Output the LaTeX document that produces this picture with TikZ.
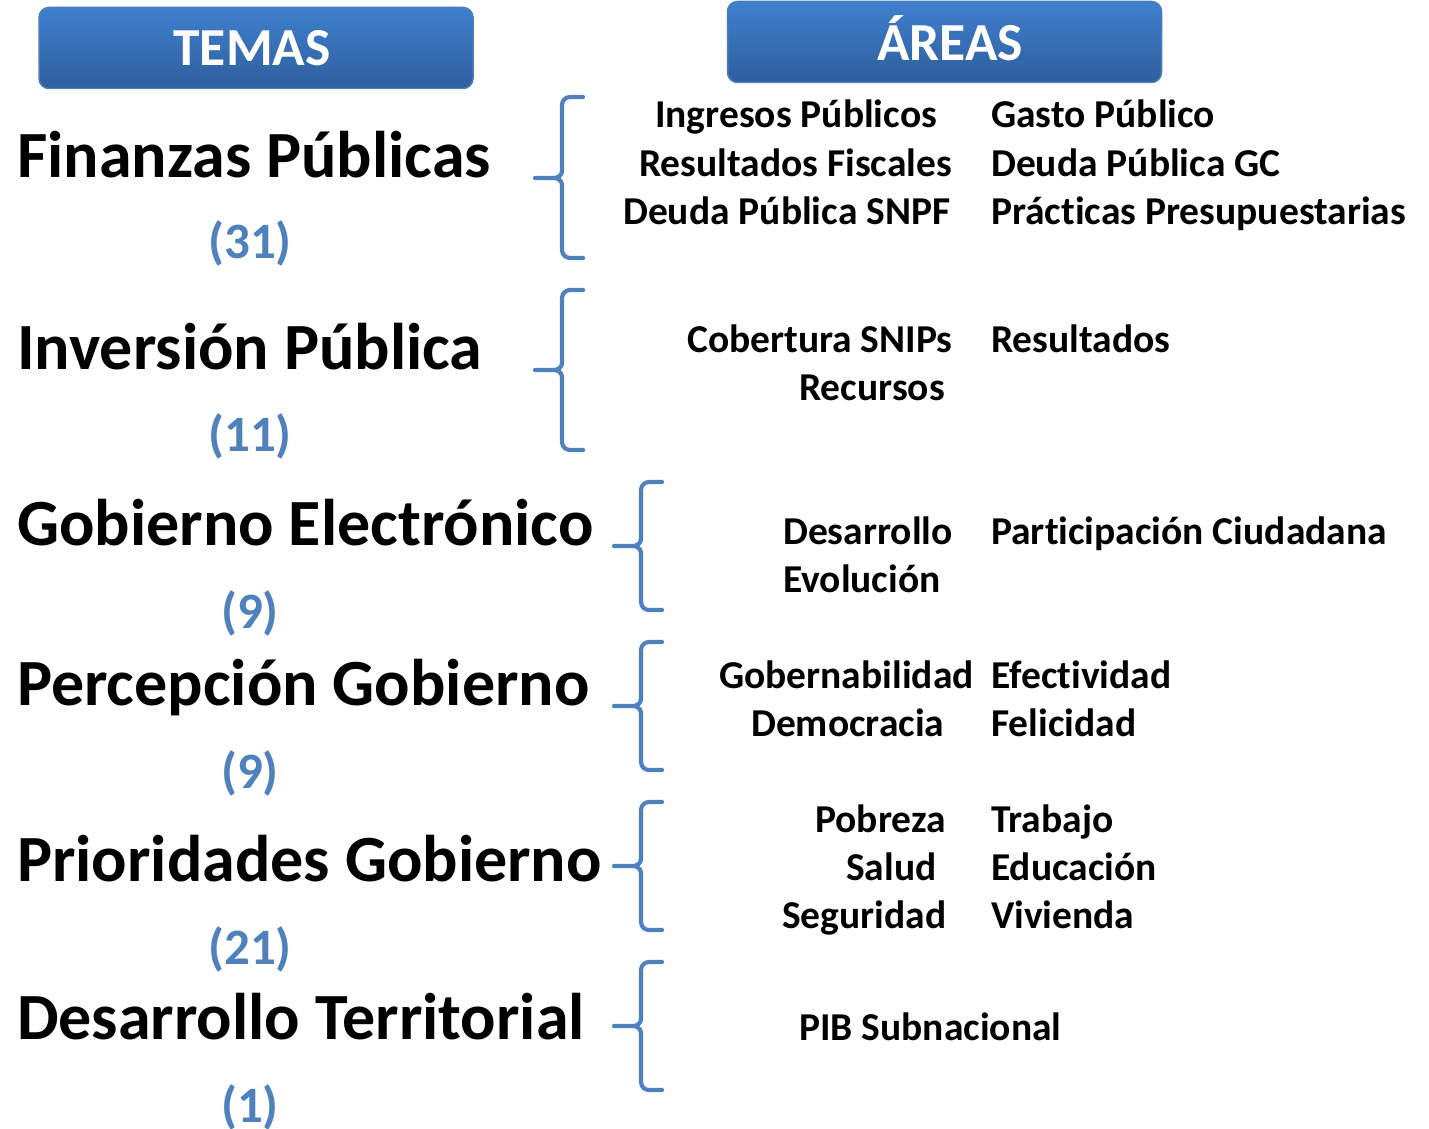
\documentclass[tikz,border=0pt]{standalone}
\usepackage{fontspec}
\setmainfont{Carlito}[Ligatures=NoCommon]
\definecolor{bracec}{HTML}{4F81BD}
\definecolor{numc}{HTML}{4F81BD}
\definecolor{hdtop}{HTML}{3F80CE}
\definecolor{hdbot}{HTML}{2F5E9D}
\definecolor{hdline}{HTML}{4A7EBB}
\newcommand{\mybrace}[4]{% xv, top, mid, bot
  \draw[bracestyle] ({#1+21},#2) -- ({#1+8},#2) to[out=180,in=90] (#1,{#2+8}) -- (#1,{#3-7})
     to[out=-90,in=0] ({#1-8},#3) -- ({#1-27},#3)
     ({#1-8},#3) to[out=0,in=90] (#1,{#3+7}) -- (#1,{#4-8}) to[out=-90,in=180] ({#1+8},#4) -- ({#1+21},#4);}
\begin{document}
\begin{tikzpicture}[x=1pt,y=-1pt,
  bracestyle/.style={draw=bracec,line width=4.2pt,line cap=round,line join=round},
  header/.style={draw=hdline,line width=1.5pt,rounded corners=10pt,top color=hdtop,bottom color=hdbot,minimum width=434pt,minimum height=81pt,inner sep=0pt},
  headtxt/.style={anchor=base,text=white,font=\bfseries\fontsize{53.5}{60}\selectfont,inner sep=0pt},
  theme/.style={anchor=base west,font=\bfseries\fontsize{66}{80}\selectfont,inner sep=0pt},
  count/.style={anchor=base,text=numc,font=\bfseries\fontsize{51}{56}\selectfont,inner sep=0pt},
  arealeft/.style={anchor=base west,font=\bfseries\fontsize{39.5}{44}\selectfont,inner sep=0pt},
  arearight/.style={anchor=base west,font=\bfseries\fontsize{39.5}{44}\selectfont,inner sep=0pt}]
\useasboundingbox (0,0) rectangle (1429,1129);
% headers
\node[header] (hT) at (256,48) {};
\node[headtxt] (tT) at (252,66) {TEMAS};
\node[header] (hA) at (944.5,42) {};
\node[headtxt] (tA) at (950,61) {ÁREAS};
% themes
\node[theme] (t1) at (17,177) {Finanzas Públicas};
\node[count] (c1) at (250,258) {(31)};
\node[theme] (t2) at (17,369) {Inversión Pública};
\node[count] (c2) at (250,451) {(11)};
\node[theme] (t3) at (17,545) {Gobierno Electrónico};
\node[count] (c3) at (250,628) {(9)};
\node[theme] (t4) at (17,705) {Percepción Gobierno};
\node[count] (c4) at (250,788) {(9)};
\node[theme] (t5) at (17,881) {Prioridades Gobierno};
\node[count] (c5) at (250,964) {(21)};
\node[theme] (t6) at (17,1039) {Desarrollo Territorial};
\node[count] (c6) at (250,1122) {(1)};
% braces
\mybrace{562}{97}{178}{258}
\mybrace{562}{290}{370}{450}
\mybrace{641}{482}{546}{610}
\mybrace{641}{642}{706}{770}
\mybrace{641}{802}{866}{930}
\mybrace{641}{962}{1026}{1090}
% areas group 1
\node[arealeft] (a11) at (655,128) {Ingresos Públicos};
\node[arealeft] (a12) at (639,176) {Resultados Fiscales};
\node[arealeft] (a13) at (623,224) {Deuda Pública SNPF};
\node[arearight] (b11) at (991,128) {Gasto Público};
\node[arearight] (b12) at (991,176) {Deuda Pública GC};
\node[arearight] (b13) at (991,224) {Prácticas Presupuestarias};
% group 2
\node[arealeft] (a21) at (687,352) {Cobertura SNIPs};
\node[arealeft] (a22) at (799,400) {Recursos};
\node[arearight] (b21) at (991,352) {Resultados};
% group 3
\node[arealeft] (a31) at (783,544) {Desarrollo};
\node[arealeft] (a32) at (783,592) {Evolución};
\node[arearight] (b31) at (991,544) {Participación Ciudadana};
% group 4
\node[arealeft] (a41) at (719,688) {Gobernabilidad};
\node[arealeft] (a42) at (751,736) {Democracia};
\node[arearight] (b41) at (991,688) {Efectividad};
\node[arearight] (b42) at (991,736) {Felicidad};
% group 5
\node[arealeft] (a51) at (815,832) {Pobreza};
\node[arealeft] (a52) at (846,880) {Salud};
\node[arealeft] (a53) at (782,928) {Seguridad};
\node[arearight] (b51) at (991,832) {Trabajo};
\node[arearight] (b52) at (991,880) {Educación};
\node[arearight] (b53) at (991,928) {Vivienda};
% group 6
\node[arealeft] (a61) at (799,1040) {PIB Subnacional};
\end{tikzpicture}
\end{document}
